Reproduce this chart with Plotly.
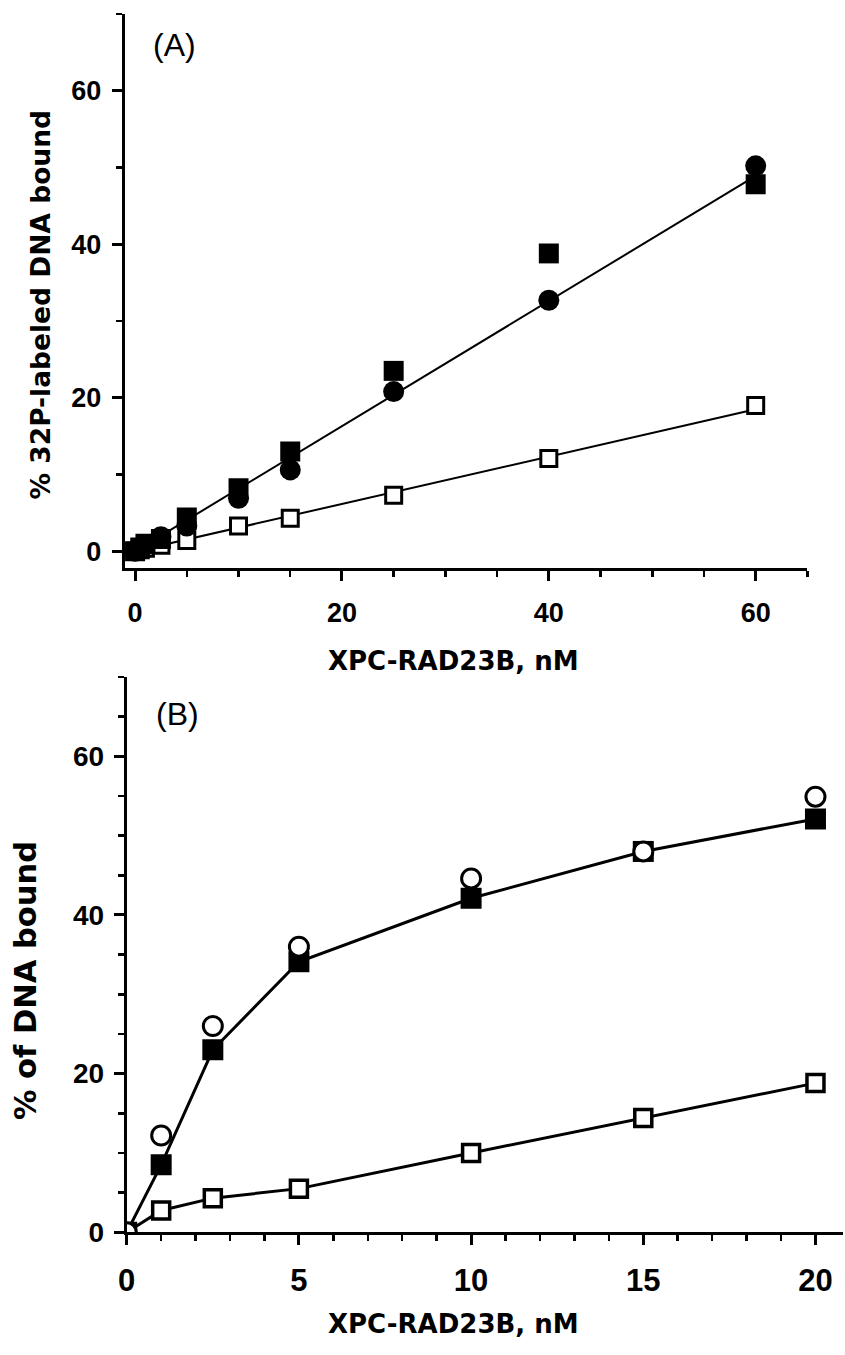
import plotly.graph_objects as go

# ---------------- Panel A data ----------------
a_conc = [0, 0.5, 1, 2.5, 5, 10, 15, 25, 40, 60]
a_filled_circle = [0, 0.3, 0.8, 1.9, 3.3, 6.9, 10.6, 20.8, 32.7, 50.2]
a_filled_square = [0, 0.5, 1.0, 1.6, 4.4, 8.2, 13.0, 23.5, 38.8, 47.8]
a_open_square = [0, 0.2, 0.4, 0.8, 1.4, 3.3, 4.3, 7.3, 12.1, 19.0]
a_fit_x = [0, 60]
a_fit_filled = [0, 48.9]
a_fit_open = [0, 18.5]

# ---------------- Panel B data ----------------
b_conc = [0, 1, 2.5, 5, 10, 15, 20]
b_open_circle = [0, 12.2, 26.0, 36.0, 44.6, 48.0, 54.9]
b_filled_square = [0, 8.5, 23.0, 34.1, 42.1, 48.0, 52.1]
b_open_square = [0, 2.75, 4.3, 5.5, 10.0, 14.4, 18.8]

x_title = "XPC-RAD23B, nM"
a_y_title = "% 32P-labeled DNA bound"
b_y_title = "% of DNA bound"

W, H = 845, 1355
BLACK = "black"

fig = go.Figure()

# Panel A
fig.add_trace(go.Scatter(x=a_fit_x, y=a_fit_filled, mode="lines",
                         line=dict(color=BLACK, width=2), xaxis="x", yaxis="y"))
fig.add_trace(go.Scatter(x=a_fit_x, y=a_fit_open, mode="lines",
                         line=dict(color=BLACK, width=2), xaxis="x", yaxis="y"))
fig.add_trace(go.Scatter(x=a_conc, y=a_open_square, mode="markers",
                         marker=dict(symbol="square", size=16, color="white",
                                     line=dict(color=BLACK, width=3)),
                         xaxis="x", yaxis="y"))
fig.add_trace(go.Scatter(x=a_conc, y=a_filled_square, mode="markers",
                         marker=dict(symbol="square", size=20, color=BLACK,
                                     line=dict(width=0)),
                         xaxis="x", yaxis="y"))
fig.add_trace(go.Scatter(x=a_conc, y=a_filled_circle, mode="markers",
                         marker=dict(symbol="circle", size=21, color=BLACK,
                                     line=dict(width=0)),
                         xaxis="x", yaxis="y"))

# Panel B
fig.add_trace(go.Scatter(x=b_conc, y=b_filled_square, mode="lines+markers",
                         line=dict(color=BLACK, width=3),
                         marker=dict(symbol="square", size=21, color=BLACK,
                                     line=dict(width=0)),
                         xaxis="x2", yaxis="y2"))
fig.add_trace(go.Scatter(x=b_conc, y=b_open_square, mode="lines+markers",
                         line=dict(color=BLACK, width=3),
                         marker=dict(symbol="square", size=17, color="white",
                                     line=dict(color=BLACK, width=3.5)),
                         xaxis="x2", yaxis="y2"))
fig.add_trace(go.Scatter(x=b_conc, y=b_open_circle, mode="markers",
                         marker=dict(symbol="circle", size=19, color="white",
                                     line=dict(color=BLACK, width=3)),
                         xaxis="x2", yaxis="y2"))


def axis(domain, rng, dtick, minor_dtick, anchor, tick_size, standoff):
    return dict(
        domain=domain, range=rng, anchor=anchor,
        showline=True, linewidth=3, linecolor=BLACK, mirror=False,
        showgrid=False, zeroline=False,
        ticks="outside", ticklen=10, tickwidth=3, tickcolor=BLACK,
        tick0=0, dtick=dtick,
        tickfont=dict(family="Liberation Sans", size=tick_size, color=BLACK,
                      weight="bold"),
        ticklabeloverflow="allow",
        ticklabelstandoff=standoff,
        minor=dict(ticks="outside", ticklen=6, tickwidth=2.5, tickcolor=BLACK,
                   tick0=0, dtick=minor_dtick, showgrid=False),
        fixedrange=True,
    )


fig.update_layout(
    width=W, height=H,
    margin=dict(l=0, r=0, t=0, b=0),
    paper_bgcolor="white", plot_bgcolor="white",
    showlegend=False,
    xaxis=axis([117 / W, 807 / W], [-1, 65], 20, 5, "y", 27, 8),
    yaxis=axis([1 - 575 / H, 1 - 14 / H], [-2.2, 70], 20, 10, "x", 27, 5),
    xaxis2=axis([119 / W, 843 / W], [0, 20.8], 5, 1, "y2", 31, 9),
    yaxis2=axis([1 - 1247 / H, 1 - 685 / H], [0, 70], 20, 5, "x2", 28, 4),
)

title_font_a = dict(family="DejaVu Sans", size=26, color=BLACK, weight="bold")
title_font_ay = dict(family="DejaVu Sans", size=26.5, color=BLACK, weight="bold")
title_font_by = dict(family="DejaVu Sans", size=30.5, color=BLACK, weight="bold")
label_font = dict(family="Liberation Sans", size=32, color=BLACK)

annos = [
    dict(text="(A)", x=167 / W, y=1 - 46 / H, font=label_font),
    dict(text="(B)", x=170 / W, y=1 - 723 / H, font=label_font),
    dict(text=x_title, x=449.5 / W, y=1 - 669 / H, font=title_font_a),
    dict(text=x_title, x=449 / W, y=1 - 1340 / H, font=title_font_a),
    dict(text=a_y_title, x=32 / W, y=1 - 308.5 / H, font=title_font_ay, textangle=-90),
    dict(text=b_y_title, x=16 / W, y=1 - 992 / H, font=title_font_by, textangle=-90),
]
for a in annos:
    fig.add_annotation(xref="paper", yref="paper", showarrow=False,
                       xanchor="center", yanchor="middle", **a)

fig.write_html(
    "out.html",
    config={"displayModeBar": False, "staticPlot": True},
    post_script="document.body.style.margin='0px';document.body.style.overflow='hidden';",
)
